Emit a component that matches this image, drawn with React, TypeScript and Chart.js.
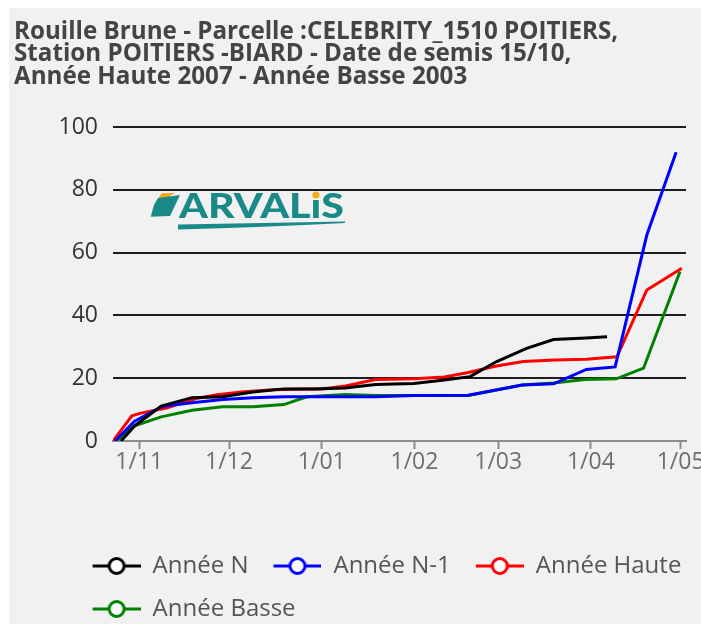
import React, { useEffect, useRef } from 'react';
import { Chart, registerables } from 'chart.js';

Chart.register(...registerables);

const FONT = "'Open Sans', sans-serif";

const TITLE_LINES = [
  'Rouille Brune - Parcelle :CELEBRITY_1510 POITIERS,',
  'Station POITIERS -BIARD - Date de semis 15/10,',
  'Année Haute 2007 - Année Basse 2003',
];

// x values are days counted from 1 October
const MONTH_TICKS = [31, 61, 92, 123, 151, 182, 212];
const MONTH_LABELS = ['1/11', '1/12', '1/01', '1/02', '1/03', '1/04', '1/05'];
const X_MIN = 22.2;
const X_MAX = 213.8;
const Y_MIN = 0;
const Y_MAX = 100;
const Y_STEP = 20;

const SERIES_LABELS = ['Année N', 'Année N-1', 'Année Haute', 'Année Basse'];
const SERIES_COLORS = ['#000000', '#0000ff', '#ff0000', '#008000'];

const N_DAYS = [24.9, 29.4, 38.3, 48.6, 58.8, 69, 79.3, 89.5, 99.8, 110, 122.8, 133, 141.6, 150.5, 160.5, 169.5, 180.4, 187.4];
const N_VALUES = [0, 4.8, 11.1, 13.8, 14.1, 15.6, 16.6, 16.6, 16.9, 18, 18.3, 19.4, 20.5, 25.3, 29.5, 32.3, 32.8, 33.2];

const N1_DAYS = [22.9, 29.4, 38.9, 48.6, 58.8, 69, 79.3, 89.5, 110, 122.8, 141, 159, 169.5, 180.5, 190.1, 200.7, 210.5];
const N1_VALUES = [0, 6.3, 11.1, 12.2, 13.2, 13.8, 14.1, 14.1, 14.1, 14.5, 14.6, 17.8, 18.2, 22.8, 23.6, 65.6, 92];

const HAUTE_DAYS = [22.2, 28.5, 31.2, 40, 50, 57, 66, 76, 86, 92, 100, 110, 123, 133, 141, 150, 159.4, 170, 180.4, 190.7, 200.7, 212.4];
const HAUTE_VALUES = [0, 8.0, 8.8, 10.5, 13.5, 14.7, 15.7, 16.3, 16.6, 16.6, 17.5, 19.6, 19.8, 20.4, 21.8, 23.8, 25.3, 25.8, 26, 26.8, 48.1, 55];

const BASSE_DAYS = [23.2, 29.4, 38.3, 48.6, 58.8, 69, 79.3, 87, 99.8, 110, 122.8, 141, 159, 169.5, 180, 190.5, 199.6, 211.8];
const BASSE_VALUES = [0, 4.8, 7.7, 9.8, 10.9, 10.9, 11.6, 14.1, 14.8, 14.5, 14.5, 14.5, 17.8, 18.5, 19.6, 19.8, 23.2, 54];

const SERIES_DAYS = [N_DAYS, N1_DAYS, HAUTE_DAYS, BASSE_DAYS];
const SERIES_VALUES = [N_VALUES, N1_VALUES, HAUTE_VALUES, BASSE_VALUES];

const LOGO_TEAL = '#198a87';
const LOGO_ORANGE = '#f6a91c';

const ICON_GAP = 6;
const ICON_W = 48 + ICON_GAP;

function makeIcon(color: string) {
  const c = document.createElement('canvas');
  c.width = ICON_W;
  c.height = 22;
  const ctx = c.getContext('2d')!;
  ctx.strokeStyle = color;
  ctx.lineWidth = 3;
  ctx.beginPath();
  ctx.moveTo(ICON_GAP, 11);
  ctx.lineTo(ICON_W, 11);
  ctx.stroke();
  ctx.beginPath();
  ctx.arc(ICON_GAP + 24, 11, 7.5, 0, Math.PI * 2);
  ctx.fillStyle = '#ffffff';
  ctx.fill();
  ctx.stroke();
  return c;
}

const legendPlacement = {
  id: 'legendPlacement',
  afterLayout(chart: any) {
    const l = chart.legend;
    if (!l) return;
    l.left = 58.6;
    l.right = 720;
    l.top = 527;
    l.bottom = 616;
    l.width = l.right - l.left;
    l.height = l.bottom - l.top;
  },
};

const logoPlugin = {
  id: 'arvalisLogo',
  afterDraw(chart: any) {
    const ctx = chart.ctx as CanvasRenderingContext2D;
    ctx.save();
    // leaf
    ctx.fillStyle = LOGO_ORANGE;
    ctx.beginPath();
    ctx.moveTo(146, 195);
    ctx.lineTo(152.7, 185.3);
    ctx.lineTo(166, 184.7);
    ctx.lineTo(157.7, 190.3);
    ctx.closePath();
    ctx.fill();
    ctx.fillStyle = LOGO_TEAL;
    ctx.beginPath();
    ctx.moveTo(149, 190);
    ctx.lineTo(171, 187);
    ctx.lineTo(161, 208);
    ctx.lineTo(141.7, 208.7);
    ctx.lineTo(145, 197);
    ctx.closePath();
    ctx.fill();
    // word
    ctx.font = "900 34px Lato, 'Open Sans', sans-serif";
    ctx.textBaseline = 'alphabetic';
    ctx.textAlign = 'left';
    const a = 'ARVAL';
    const i = '\u0131';
    const s = 'S';
    const wa = ctx.measureText(a).width;
    const wi = ctx.measureText(i).width;
    const ws = ctx.measureText(s).width;
    const total = wa + wi + ws;
    const sx = 165 / total;
    const x0 = 170;
    const base = 210;
    ctx.save();
    ctx.translate(x0, base);
    ctx.scale(sx, 1);
    ctx.fillStyle = LOGO_TEAL;
    ctx.fillText(a, 0, 0);
    ctx.fillText(i, wa, 0);
    ctx.fillText(s, wa + wi, 0);
    ctx.restore();
    const dotX = x0 + sx * (wa + wi / 2);
    ctx.fillStyle = LOGO_ORANGE;
    ctx.beginPath();
    ctx.arc(dotX, 187, 3.6, 0, Math.PI * 2);
    ctx.fill();
    // swoosh
    ctx.fillStyle = LOGO_TEAL;
    ctx.beginPath();
    ctx.moveTo(169, 216.5);
    ctx.quadraticCurveTo(255, 215, 336, 213.5);
    ctx.lineTo(336, 215);
    ctx.quadraticCurveTo(255, 219, 169, 221.5);
    ctx.closePath();
    ctx.fill();
    ctx.restore();
  },
};

export default function App() {
  const ref = useRef<HTMLCanvasElement>(null);

  useEffect(() => {
    const canvas = ref.current;
    if (!canvas) return;
    const icons = SERIES_COLORS.map((c) => makeIcon(c));
    const datasets = SERIES_LABELS.map((label, k) => ({
      label,
      data: SERIES_DAYS[k].map((d, j) => ({ x: d, y: SERIES_VALUES[k][j] })),
      borderColor: SERIES_COLORS[k],
      backgroundColor: SERIES_COLORS[k],
      borderWidth: 3,
      pointRadius: 0,
      pointHoverRadius: 0,
      tension: 0,
      fill: false,
    }));

    const chart = new Chart(canvas, {
      type: 'line',
      data: { datasets },
      plugins: [legendPlacement, logoPlugin],
      options: {
        responsive: false,
        animation: false,
        devicePixelRatio: 1,
        layout: { padding: { left: 5, right: 15, top: 0, bottom: 47 } },
        plugins: {
          tooltip: { enabled: false },
          title: {
            display: true,
            text: TITLE_LINES,
            align: 'start',
            color: '#444444',
            font: { family: FONT, size: 24.2, weight: 'bold', lineHeight: 0.93 },
            padding: { top: 12.75, bottom: 38.75 },
          },
          legend: {
            display: true,
            position: 'bottom',
            align: 'start',
            labels: {
              usePointStyle: true,
              pointStyleWidth: ICON_W,
              padding: 19,
              color: '#555555',
              font: { family: FONT, size: 24 },
              generateLabels: (ch: any) =>
                ch.data.datasets.map((ds: any, idx: number) => ({
                  text: ds.label,
                  pointStyle: icons[idx],
                  fillStyle: 'transparent',
                  strokeStyle: ds.borderColor,
                  lineWidth: 0,
                  hidden: false,
                  datasetIndex: idx,
                  fontColor: '#555555',
                })),
            },
          },
        },
        scales: {
          x: {
            type: 'linear',
            min: X_MIN,
            max: X_MAX,
            afterBuildTicks: (scale: any) => {
              scale.ticks = MONTH_TICKS.map((v) => ({ value: v }));
            },
            afterFit: (scale: any) => {
              scale.height = 40;
              scale.paddingLeft = 0;
              scale.paddingRight = 0;
            },
            ticks: {
              autoSkip: false,
              maxRotation: 0,
              padding: 0,
              color: '#6e6e6e',
              font: { family: FONT, size: 23 },
              callback: (_v: any, index: number) => MONTH_LABELS[index],
            },
            grid: {
              drawOnChartArea: false,
              drawTicks: true,
              tickLength: 8,
              tickColor: '#8c8c8c',
              tickWidth: 2,
            },
            border: { display: true, color: '#8c8c8c', width: 2 },
          },
          y: {
            type: 'linear',
            min: Y_MIN,
            max: Y_MAX,
            afterFit: (scale: any) => {
              scale.width = 99;
            },
            ticks: {
              stepSize: Y_STEP,
              padding: 15,
              color: '#333333',
              font: { family: FONT, size: 23 },
            },
            grid: {
              drawTicks: false,
              lineWidth: 2,
              color: (c: any) => (c.tick && c.tick.value === 0 ? 'rgba(0,0,0,0)' : '#1e1e1e'),
            },
            border: { display: false },
          },
        },
      },
    } as any);

    return () => chart.destroy();
  }, []);

  return (
    <div
      style={{
        position: 'absolute',
        left: 9,
        top: 8,
        width: 692,
        height: 616,
        background: '#f1f1f1',
        overflow: 'hidden',
      }}
    >
      <canvas ref={ref} width={692} height={616} style={{ display: 'block' }} />
    </div>
  );
}
